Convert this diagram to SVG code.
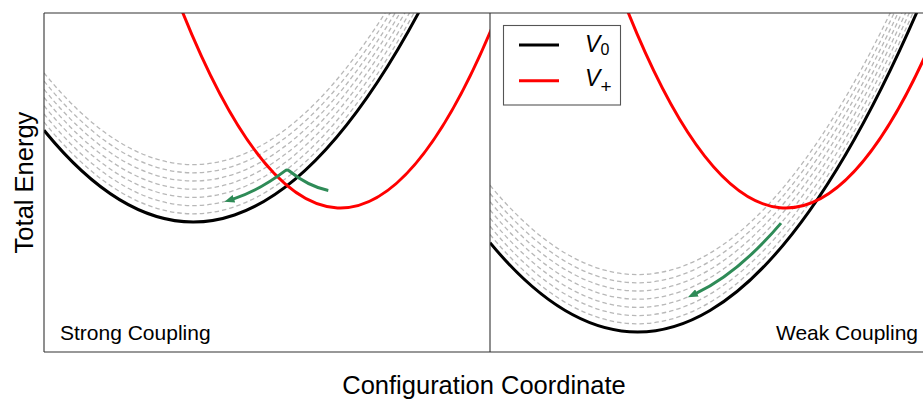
<svg xmlns="http://www.w3.org/2000/svg" xmlns:xlink="http://www.w3.org/1999/xlink" width="923" height="399" viewBox="0 0 923 399">
<style>
  .crv { fill: none; stroke-width: 3; }
  .black { stroke: #000; }
  .red { stroke: #ff0000; }
  .dash { fill: none; stroke: #b8b8b8; stroke-width: 1.3; stroke-dasharray: 4.5 3; }
  .green { fill: none; stroke: #2e8b57; stroke-width: 3; }
  .frame { stroke: #333; stroke-width: 1.1; fill: none; }
  .lbl { font-family: "Liberation Sans", Arial, sans-serif; fill: #000; }
</style>
<defs>
  <clipPath id="clipL"><rect x="44" y="13" width="446" height="339"/></clipPath>
  <clipPath id="clipR"><rect x="490" y="13" width="446" height="339"/></clipPath>
  <path id="pbL" d="M44,130.29 Q234.5,364.49 425,0.63"/>
  <path id="pbR" d="M490,242.68 Q710,508.95 930,-18.54"/>
  <marker id="ah" markerUnits="userSpaceOnUse" markerWidth="10" markerHeight="8" viewBox="0 0 10 8" refX="1" refY="4" orient="auto">
    <path d="M0,0 L10,4 L0,8 z" fill="#2e8b57"/>
  </marker>
</defs>

<g id="panel-left" clip-path="url(#clipL)">
  <g id="levels-left">
    <use href="#pbL" class="dash" transform="translate(0,-8.2)"/>
    <use href="#pbL" class="dash" transform="translate(0,-16.4)"/>
    <use href="#pbL" class="dash" transform="translate(0,-24.6)"/>
    <use href="#pbL" class="dash" transform="translate(0,-32.8)"/>
    <use href="#pbL" class="dash" transform="translate(0,-41)"/>
    <use href="#pbL" class="dash" transform="translate(0,-49.2)"/>
    <use href="#pbL" class="dash" transform="translate(0,-57.4)"/>
  </g>
  <g id="V0-left"><use href="#pbL" class="crv black"/></g>
  <g id="Vplus-left"><path class="crv red" d="M175,-7 Q337.5,415.2 500,8.3"/></g>
</g>

<g id="panel-right" clip-path="url(#clipR)">
  <g id="levels-right">
    <use href="#pbR" class="dash" transform="translate(0,-8.2)"/>
    <use href="#pbR" class="dash" transform="translate(0,-16.4)"/>
    <use href="#pbR" class="dash" transform="translate(0,-24.6)"/>
    <use href="#pbR" class="dash" transform="translate(0,-32.8)"/>
    <use href="#pbR" class="dash" transform="translate(0,-41)"/>
    <use href="#pbR" class="dash" transform="translate(0,-49.2)"/>
    <use href="#pbR" class="dash" transform="translate(0,-57.4)"/>
  </g>
  <g id="V0-right"><use href="#pbR" class="crv black"/></g>
  <g id="Vplus-right"><path class="crv red" d="M620,-8.3 Q780,408.7 940,21.8"/></g>
</g>

<g id="connectors">
  <path id="arrow-left" class="green" marker-end="url(#ah)" d="M328.3,190.43 Q308.65,186.67 289,170.78 Q287,169.2 285,170.88 Q259,190.55 233,199.07"/>
  <path id="arrow-right" class="green" marker-end="url(#ah)" d="M781,223.1 Q738.5,273.1 696,293.4"/>
</g>

<g id="frame">
  <line class="frame" x1="44" y1="13" x2="923" y2="13"/>
  <line class="frame" x1="44" y1="352" x2="923" y2="352"/>
  <line class="frame" x1="44" y1="13" x2="44" y2="352"/>
  <line class="frame" x1="490" y1="13" x2="490" y2="352"/>
</g>

<g id="legend">
  <rect x="503.5" y="25.5" width="117" height="79.5" fill="#fff" stroke="#555" stroke-width="1.1"/>
  <line x1="519" y1="45" x2="559" y2="45" stroke="#000" stroke-width="3"/>
  <line x1="519" y1="80.7" x2="559" y2="80.7" stroke="#ff0000" stroke-width="3"/>
  <text class="lbl" x="585" y="51.5" font-size="23" font-style="italic">V</text>
  <text class="lbl" x="600.5" y="55" font-size="16">0</text>
  <text class="lbl" x="585" y="86" font-size="23" font-style="italic">V</text>
  <text class="lbl" x="600.5" y="93" font-size="19">+</text>
</g>

<g id="labels">
  <text class="lbl" x="60" y="340" font-size="21">Strong Coupling</text>
  <text class="lbl" x="918" y="340" font-size="21" text-anchor="end">Weak Coupling</text>
  <text class="lbl" x="484" y="394" font-size="25.5" text-anchor="middle">Configuration Coordinate</text>
  <text class="lbl" x="0" y="0" font-size="25.5" text-anchor="middle" transform="translate(33,182.5) rotate(-90)">Total Energy</text>
</g>
</svg>
